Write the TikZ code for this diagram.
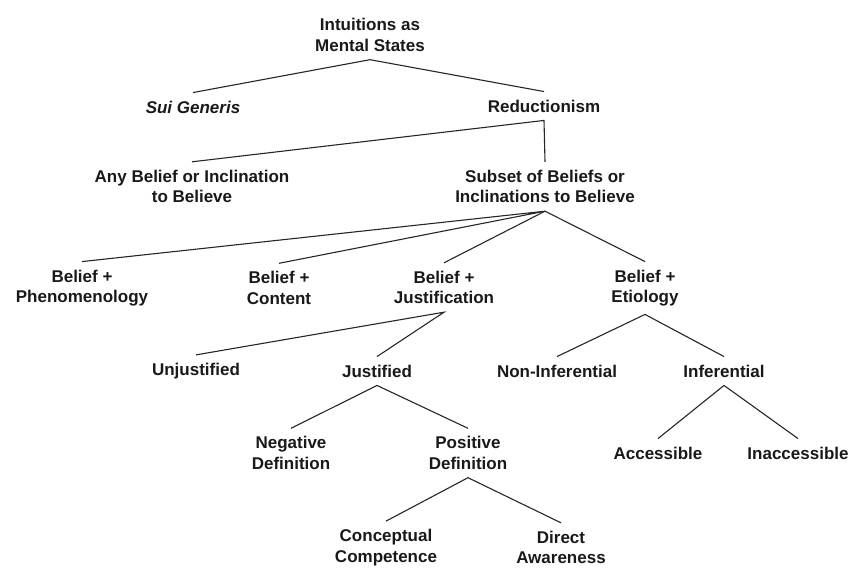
\documentclass[tikz,border=0pt]{standalone}
\usepackage{fontspec}
\setmainfont{Liberation Sans}
\usepackage{tikz}

\begin{document}
\begin{tikzpicture}[x=1pt, y=-1pt,
    every node/.style={font=\fontsize{17}{20.5}\selectfont\bfseries,
        text=black!90, align=center, inner sep=8pt},
    branch/.style={draw=black!85, line width=1.1pt}]
    \useasboundingbox (0,0) rectangle (853,567);

    \node (root)   at (370,35)    {Intuitions as\\Mental States};
    \node (sui)    at (193,107)   {\itshape Sui Generis};
    \node (red)    at (544,106)   {Reductionism};
    \node (any)    at (192,186.5) {Any Belief or Inclination\\to Believe};
    \node (subset) at (545,186.5) {Subset of Beliefs or\\Inclinations to Believe};
    \node (phen)   at (82,288)    {Belief +\\Phenomenology};
    \node (cont)   at (279,288)   {Belief +\\Content};
    \node (just)   at (444,287.5) {Belief +\\Justification};
    \node (etio)   at (645,288)   {Belief +\\Etiology};
    \node (unj)    at (196,371)   {Unjustified};
    \node (jus)    at (377,371)   {Justified};
    \node (noninf) at (557,371)   {Non-Inferential};
    \node (inf)    at (724,371)   {Inferential};
    \node (neg)    at (291,453)   {Negative\\Definition};
    \node (pos)    at (468,453)   {Positive\\Definition};
    \node (acc)    at (658,453)   {Accessible};
    \node (inacc)  at (798,453)   {Inaccessible};
    \node (conc)   at (386,547.5) {Conceptual\\Competence};
    \node (dir)    at (561,547.5) {Direct\\Awareness};

    % branches
    \draw[branch] (sui.north) -- (root.south) -- (red.north);
    \draw[branch] (any.north) -- (red.south) -- (subset.north);
    \draw[branch] (phen.north) -- (subset.south) -- (cont.north);
    \draw[branch] (just.north) -- (subset.south) -- (etio.north);
    \draw[branch] (unj.north) -- (just.south) -- (jus.north);
    \draw[branch] (noninf.north) -- (etio.south) -- (inf.north);
    \draw[branch] (neg.north) -- (jus.south) -- (pos.north);
    \draw[branch] (acc.north) -- (inf.south) -- (inacc.north);
    \draw[branch] (conc.north) -- (pos.south) -- (dir.north);

\end{tikzpicture}
\end{document}
